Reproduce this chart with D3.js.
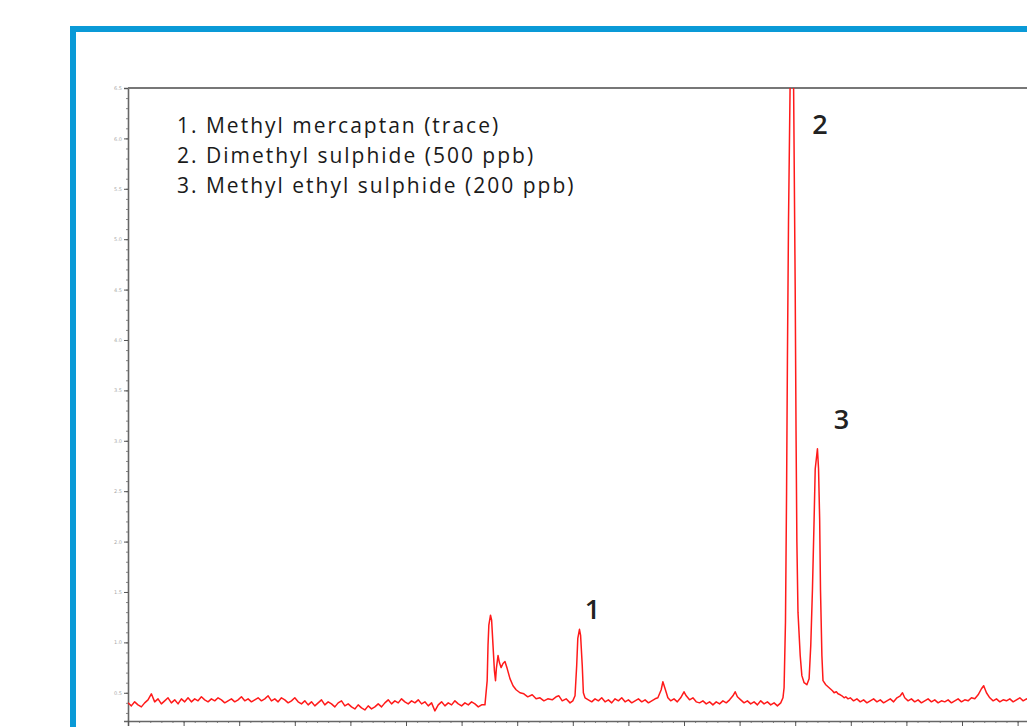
<!DOCTYPE html>
<html>
<head>
<meta charset="utf-8">
<script src="https://cdn.jsdelivr.net/npm/d3@7"></script>
<style>
  html, body { margin: 0; padding: 0; background: #fff; }
  svg { display: block; }
</style>
</head>
<body>
<svg id="chart" width="1027" height="727"></svg>
<script>
// ---- data (time in min, detector signal) ----
const legendItems = [
  "1. Methyl mercaptan (trace)",
  "2. Dimethyl sulphide (500 ppb)",
  "3. Methyl ethyl sulphide (200 ppb)"
];
const peakLabels = [
  { label: "1", t: 8.12, v: 1.13 },
  { label: "2", t: 11.94, v: 6.5 },
  { label: "3", t: 12.40, v: 2.92 }
];
const yTickValues = [0.5, 1.0, 1.5, 2.0, 2.5, 3.0, 3.5, 4.0, 4.5, 5.0, 5.5, 6.0, 6.5];
const xTickValues = [0,1,2,3,4,5,6,7,8,9,10,11,12,13,14,15,16,17];

const baselineEarly = [
 [0.00,0.40],[0.06,0.37],[0.12,0.41],[0.18,0.38],[0.24,0.36],[0.30,0.40],[0.36,0.43],[0.42,0.49],[0.48,0.41],[0.54,0.44],
 [0.60,0.39],[0.66,0.42],[0.72,0.45],[0.78,0.40],[0.84,0.43],[0.90,0.39],[0.96,0.44],[1.02,0.41],[1.08,0.45],[1.14,0.41],
 [1.20,0.44],[1.26,0.42],[1.32,0.46],[1.38,0.43],[1.44,0.41],[1.50,0.44],[1.56,0.42],[1.62,0.45],[1.68,0.43],[1.74,0.40],
 [1.80,0.42],[1.86,0.44],[1.92,0.41],[1.98,0.43],[2.04,0.46],[2.10,0.42],[2.16,0.44],[2.22,0.41],[2.28,0.43],[2.34,0.45],
 [2.40,0.42],[2.46,0.44],[2.52,0.47],[2.58,0.42],[2.64,0.44],[2.70,0.41],[2.76,0.45],[2.82,0.43],[2.88,0.40],[2.94,0.42],
 [3.00,0.45],[3.06,0.41],[3.12,0.39],[3.18,0.42],[3.24,0.38],[3.30,0.41],[3.36,0.37],[3.42,0.40],[3.48,0.43],[3.54,0.38],
 [3.60,0.41],[3.66,0.39],[3.72,0.36],[3.78,0.40],[3.84,0.42],[3.90,0.37],[3.96,0.39],[4.02,0.36],[4.08,0.34],[4.14,0.38],
 [4.20,0.35],[4.26,0.33],[4.32,0.37],[4.38,0.34],[4.44,0.36],[4.50,0.39],[4.56,0.36],[4.62,0.40],[4.68,0.43],[4.74,0.39],
 [4.80,0.42],[4.86,0.40],[4.92,0.44],[4.98,0.41],[5.04,0.39],[5.10,0.42],[5.16,0.40],[5.22,0.43],[5.28,0.39],[5.34,0.41],
 [5.40,0.37],[5.46,0.40],[5.52,0.32],[5.58,0.38],[5.64,0.41],[5.70,0.37],[5.76,0.40],[5.82,0.38],[5.88,0.42],[5.94,0.39],
 [6.00,0.37],[6.06,0.40],[6.12,0.38],[6.18,0.41],[6.24,0.39],[6.30,0.36],[6.36,0.38]
];
const earlyPeaks = [
 [6.42,0.38],[6.46,0.62],[6.475,0.97],[6.49,1.17],[6.52,1.27],[6.54,1.22],[6.565,0.97],[6.59,0.72],[6.61,0.62],[6.625,0.74],
 [6.655,0.87],[6.68,0.80],[6.71,0.75],[6.745,0.79],[6.78,0.81],[6.82,0.74],[6.87,0.64],[6.925,0.57],[6.98,0.53],[7.05,0.50],
 [7.12,0.49],[7.19,0.46],[7.27,0.48],[7.34,0.44],[7.41,0.45],[7.48,0.42],[7.55,0.44],[7.63,0.43],[7.70,0.46],[7.75,0.47],
 [7.81,0.42],[7.88,0.44],[7.95,0.40],[8.00,0.42],[8.04,0.47],[8.07,0.77],[8.09,1.04],[8.12,1.13],[8.14,1.07],[8.17,0.77],
 [8.19,0.50],[8.22,0.45]
];
const baselineMid = [
 [8.28,0.43],[8.34,0.41],[8.40,0.44],[8.46,0.42],[8.52,0.45],[8.58,0.41],[8.64,0.43],[8.70,0.40],[8.76,0.44],[8.82,0.42],
 [8.88,0.45],[8.94,0.41],[9.00,0.43],[9.06,0.40],[9.12,0.42],[9.18,0.44],[9.24,0.41],[9.30,0.43],[9.36,0.40],[9.42,0.42],
 [9.48,0.44],[9.53,0.45],[9.59,0.53],[9.62,0.61],[9.66,0.54],[9.71,0.45],[9.76,0.42],[9.82,0.44],[9.88,0.41],[9.94,0.45],
 [10.00,0.51],[10.04,0.47],[10.10,0.43],[10.16,0.45],[10.22,0.41],[10.28,0.40],[10.34,0.42],[10.40,0.39],[10.46,0.41],[10.52,0.38],
 [10.58,0.41],[10.64,0.39],[10.70,0.42],[10.76,0.40],[10.82,0.43],[10.88,0.47],[10.92,0.51],[10.96,0.46],[11.02,0.43],[11.08,0.40],
 [11.14,0.42],[11.20,0.39],[11.26,0.41],[11.32,0.38],[11.38,0.42],[11.44,0.39],[11.50,0.41],[11.56,0.38],[11.62,0.40],[11.68,0.37],
 [11.74,0.40]
];
const mainPeaks = [
 [11.78,0.45],[11.80,0.55],[11.825,1.2],[11.845,2.5],[11.86,3.8],[11.88,5.2],[11.91,6.6],[11.94,7.3],[11.97,6.6],[12.00,4.5],
 [12.015,3.1],[12.03,2.0],[12.05,1.3],[12.09,0.87],[12.12,0.67],[12.16,0.60],[12.21,0.58],[12.25,0.64],[12.28,0.97],[12.31,1.52],
 [12.34,2.22],[12.36,2.72],[12.40,2.92],[12.42,2.72],[12.44,2.22],[12.455,1.52],[12.48,0.87],[12.50,0.62],[12.55,0.58],[12.59,0.56],
 [12.63,0.54],[12.67,0.52],[12.70,0.50],[12.74,0.51],[12.77,0.49],[12.81,0.48],[12.84,0.47],[12.88,0.45],[12.91,0.46],[12.95,0.44],
 [12.99,0.45]
];
const baselineLate = [
 [13.05,0.42],[13.11,0.44],[13.17,0.41],[13.23,0.43],[13.29,0.40],[13.35,0.42],[13.41,0.44],[13.47,0.41],[13.53,0.43],[13.59,0.40],
 [13.65,0.42],[13.71,0.44],[13.77,0.41],[13.83,0.45],[13.89,0.47],[13.93,0.50],[13.97,0.45],[14.03,0.42],[14.09,0.44],[14.15,0.41],
 [14.21,0.43],[14.27,0.40],[14.33,0.42],[14.39,0.44],[14.45,0.41],[14.51,0.43],[14.57,0.40],[14.63,0.42],[14.69,0.41],[14.75,0.43],
 [14.81,0.40],[14.87,0.42],[14.93,0.44],[14.99,0.41],[15.05,0.43],[15.11,0.42],[15.17,0.45],[15.23,0.44],[15.29,0.48],[15.35,0.54],
 [15.39,0.57],[15.44,0.50],[15.50,0.45],[15.56,0.42],[15.62,0.44],[15.68,0.41],[15.74,0.43],[15.80,0.42],[15.86,0.44],[15.92,0.41],
 [15.98,0.43],[16.04,0.45],[16.10,0.42],[16.16,0.44],[16.22,0.42],[16.28,0.43]
];

const trace = [].concat(baselineEarly, earlyPeaks, baselineMid, mainPeaks, baselineLate);

// ---- layout ----
const svg = d3.select("#chart");
const W = 1027, H = 727;
const plotLeft = 128, plotTop = 88, plotBottom = 721;

const x = d3.scaleLinear().domain([0, 17]).range([plotLeft, plotLeft + 17 * 55.6]);
const y = d3.scaleLinear().domain([0.22, 6.5]).range([plotBottom, plotTop]);

svg.append("rect").attr("width", W).attr("height", H).attr("fill", "#fff");

// blue frame (extends past the visible area)
svg.append("rect")
  .attr("x", 73).attr("y", 29)
  .attr("width", 1100).attr("height", 900)
  .attr("fill", "none")
  .attr("stroke", "#0a9ad7")
  .attr("stroke-width", 6);

// clip for the trace
svg.append("defs").append("clipPath").attr("id", "plotclip")
  .append("rect").attr("x", plotLeft).attr("y", plotTop).attr("width", 1000).attr("height", plotBottom - plotTop);

// minor y ticks
const yMinor = d3.range(3, 66).map(d => d / 10);
svg.append("g")
  .attr("transform", `translate(${plotLeft},0)`)
  .call(d3.axisLeft(y).tickValues(yMinor).tickSize(2).tickFormat(""))
  .call(g => g.select(".domain").remove())
  .call(g => g.selectAll("line").attr("stroke", "#888"));

// major y axis
svg.append("g")
  .attr("transform", `translate(${plotLeft},0)`)
  .call(d3.axisLeft(y).tickValues(yTickValues).tickSize(4).tickPadding(2).tickFormat(d3.format(".1f")))
  .call(g => g.select(".domain").attr("stroke", "#666").attr("stroke-width", 1.6))
  .call(g => g.selectAll("line").attr("stroke", "#555"))
  .call(g => g.selectAll("text").attr("fill", "#aaa").attr("font-size", 5).attr("font-family", "DejaVu Sans"));

// minor x ticks
const xMinor = d3.range(0, 86).map(d => d / 5);
svg.append("g")
  .attr("transform", `translate(0,${plotBottom})`)
  .call(d3.axisBottom(x).tickValues(xMinor).tickSize(2).tickFormat(""))
  .call(g => g.select(".domain").remove())
  .call(g => g.selectAll("line").attr("stroke", "#888"));

// major x axis
svg.append("g")
  .attr("transform", `translate(0,${plotBottom})`)
  .call(d3.axisBottom(x).tickValues(xTickValues).tickSize(5).tickFormat(""))
  .call(g => g.select(".domain").attr("stroke", "#666").attr("stroke-width", 1.6))
  .call(g => g.selectAll("line").attr("stroke", "#555"));

// top frame line
svg.append("line")
  .attr("x1", plotLeft).attr("x2", W).attr("y1", plotTop).attr("y2", plotTop)
  .attr("stroke", "#777").attr("stroke-width", 2);

// trace
const line = d3.line().x(d => x(d[0])).y(d => y(d[1]));
svg.append("path")
  .datum(trace)
  .attr("clip-path", "url(#plotclip)")
  .attr("d", line)
  .attr("fill", "none")
  .attr("stroke", "#ff1a1a")
  .attr("stroke-width", 1.5)
  .attr("stroke-linejoin", "round");

// legend
svg.append("g").selectAll("text")
  .data(legendItems)
  .join("text")
  .attr("x", 177)
  .attr("y", (d, i) => 133 + i * 30)
  .attr("font-family", "Open Sans, sans-serif")
  .attr("font-size", 21)
  .attr("letter-spacing", 2.0)
  .attr("fill", "#1a1a1a")
  .text(d => d);

// peak labels
const labelOffsets = { "1": [13, -10], "2": [28, 46], "3": [24, -20] };
svg.append("g").selectAll("text")
  .data(peakLabels)
  .join("text")
  .attr("x", d => x(d.t) + labelOffsets[d.label][0])
  .attr("y", d => y(d.v) + labelOffsets[d.label][1])
  .attr("text-anchor", "middle")
  .attr("font-family", "Open Sans, sans-serif")
  .attr("font-weight", 600)
  .attr("font-size", 27)
  .attr("fill", "#222")
  .text(d => d.label);
</script>
</body>
</html>
